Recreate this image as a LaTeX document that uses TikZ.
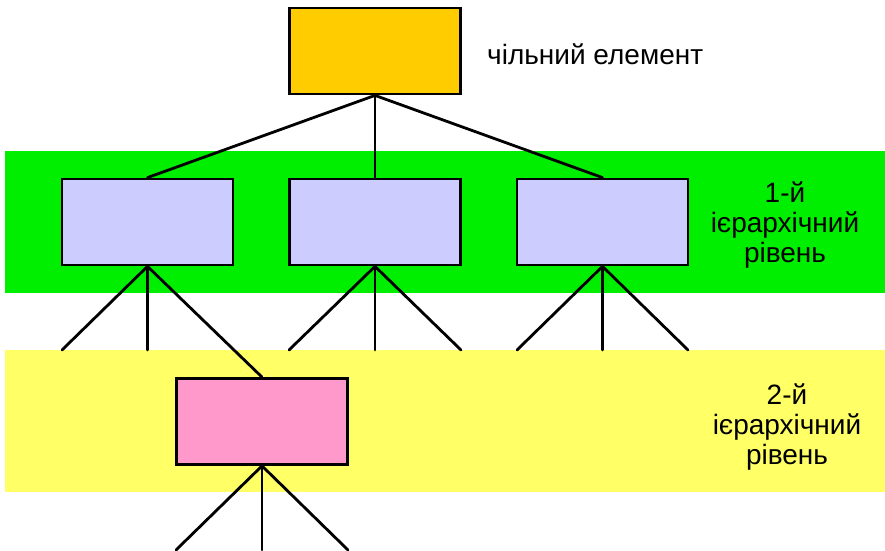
\documentclass[tikz,border=0pt]{standalone}
\usepackage{fontspec}
\setmainfont{Liberation Sans}
\definecolor{topfill}{HTML}{FFCC00}
\definecolor{lvlfill}{HTML}{CCCCFF}
\definecolor{subfill}{HTML}{FF99CC}
\definecolor{bandgreen}{HTML}{00EE00}
\definecolor{bandyellow}{HTML}{FFFF66}
\begin{document}
\begin{tikzpicture}[x=1pt,y=-1pt,
  unit/.style={draw=black, line width=2.8pt, minimum width=171pt, minimum height=86pt, inner sep=0pt},
  link/.style={line width=2.8pt, line cap=round},
  caption/.style={font=\fontsize{28}{30}\selectfont, align=center, inner sep=0pt}]
  \useasboundingbox (0,0) rectangle (885,550);
  % level bands
  \fill[bandgreen] (5,151) rectangle (885,293);
  \fill[bandyellow] (5,350) rectangle (885,492);
  % boxes
  \node[unit, fill=topfill] (top) at (375,51) {};
  \node[unit, fill=lvlfill] (a) at (147.5,222) {};
  \node[unit, fill=lvlfill] (b) at (375,222) {};
  \node[unit, fill=lvlfill] (c) at (602.5,222) {};
  \node[unit, fill=subfill] (p) at (262,421.5) {};
  % free ends of branches
  \coordinate (a1) at (62,350);   \coordinate (a2) at (147.5,350);
  \coordinate (b1) at (289,350);  \coordinate (b2) at (375,350);  \coordinate (b3) at (461,350);
  \coordinate (c1) at (517,350);  \coordinate (c2) at (602.5,350); \coordinate (c3) at (688,350);
  \coordinate (p1) at (176,550);  \coordinate (p2) at (262,550);  \coordinate (p3) at (348,550);
  % connectors
  \draw[link] (top.south) -- (a.north);
  \draw[link] (top.south) -- (b.north);
  \draw[link] (top.south) -- (c.north);
  \draw[link] (a.south) -- (a1);
  \draw[link] (a.south) -- (a2);
  \draw[link] (a.south) -- (p.north);
  \draw[link] (b.south) -- (b1);
  \draw[link] (b.south) -- (b2);
  \draw[link] (b.south) -- (b3);
  \draw[link] (c.south) -- (c1);
  \draw[link] (c.south) -- (c2);
  \draw[link] (c.south) -- (c3);
  \draw[link] (p.south) -- (p1);
  \draw[link] (p.south) -- (p2);
  \draw[link] (p.south) -- (p3);
  % labels (base anchor sits on the last line)
  \node[caption, anchor=base west] (t0) at (487,64) {чільний елемент};
  \node[caption, anchor=base] (t1) at (785,262) {1-й\\ієрархічний\\рівень};
  \node[caption, anchor=base] (t2) at (787,464) {2-й\\ієрархічний\\рівень};
\end{tikzpicture}
\end{document}
